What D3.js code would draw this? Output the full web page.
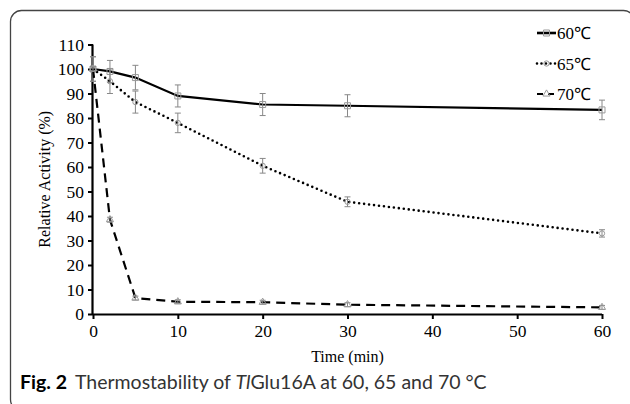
<!DOCTYPE html>
<html lang="en">
<head>
<meta charset="utf-8">
<title>Thermostability</title>
<script src="https://d3js.org/d3.v7.min.js"></script>
<style>
  body { margin: 0; background: #fff; }
  svg text { font-family: "Liberation Serif", "Times New Roman", serif; }
</style>
</head>
<body>
<div id="chart"></div>
<script>
// data
var times = [0, 2, 5, 10, 20, 30, 60];
var series = ["60℃", "65℃", "70℃"];
var act60 = [100, 99, 96.5, 89, 85.5, 85, 83.3];
var err60 = [5, 4.5, 5, 4.5, 4.5, 4.5, 4];
var act65 = [100, 95, 86.5, 78, 60.5, 45.8, 32.9];
var err65 = [5, 5, 4.5, 4, 3, 2, 1.5];
var act70 = [100, 38.5, 6.5, 5, 4.8, 3.8, 2.7];
var err70 = [1, 1, 0.8, 0.8, 0.8, 0.8, 0.8];
var xTicks = [0, 10, 20, 30, 40, 50, 60];
var yTicks = d3.range(0, 111, 10);

var w = 630, h = 404;
var margin = {top: 44.5, right: 28, bottom: 90, left: 93};

var svg = d3.select("#chart").append("svg")
  .attr("width", w)
  .attr("height", h);

// rounded frame of the figure panel
svg.append("rect")
  .attr("x", 10.5).attr("y", 10.5)
  .attr("width", 624).attr("height", 400)
  .attr("rx", 11).attr("ry", 11)
  .attr("fill", "none")
  .attr("stroke", "#444")
  .attr("stroke-width", 1.3);

var x = d3.scaleLinear().domain([0, 60]).range([margin.left, w - margin.right]);
var y = d3.scaleLinear().domain([0, 110]).range([h - margin.bottom, margin.top]);

var xAxis = d3.axisBottom(x).tickValues(xTicks).tickSize(5).tickPadding(6);
var yAxis = d3.axisLeft(y).tickValues(yTicks).tickSize(5).tickPadding(4);

var gx = svg.append("g")
  .attr("transform", `translate(0, ${y(0)})`)
  .call(xAxis);
var gy = svg.append("g")
  .attr("transform", `translate(${x(0)}, 0)`)
  .call(yAxis);

[gx, gy].forEach(function(g) {
  g.select(".domain").attr("stroke", "#000").attr("stroke-width", 2.2);
  g.selectAll(".tick line").attr("stroke", "#000").attr("stroke-width", 2);
  g.selectAll(".tick text")
    .attr("fill", "#000")
    .style("font-family", '"Liberation Serif", serif')
    .style("font-size", "17.5px");
});
gx.select(".domain").attr("d", `M${x(0)},0.5H${x(60)}`);
gy.select(".domain").attr("d", `M-0.5,${y(0)}V${y(110)}`);

// axis titles
svg.append("text")
  .attr("x", (x(0) + x(60)) / 2)
  .attr("y", 362)
  .attr("text-anchor", "middle")
  .style("font-size", "16px")
  .text("Time (min)");

svg.append("text")
  .attr("transform", `translate(50, ${(y(0) + y(110)) / 2}) rotate(-90)`)
  .attr("text-anchor", "middle")
  .style("font-size", "16px")
  .text("Relative Activity (%)");

var styles = [
  {vals: act60, errs: err60, dash: null, width: 2.2, cap: "butt", marker: "square"},
  {vals: act65, errs: err65, dash: "0,5", width: 2.6, cap: "round", marker: "circle"},
  {vals: act70, errs: err70, dash: "9,6", width: 2.2, cap: "butt", marker: "triangle"}
];

var line = d3.line()
  .x(function(d) { return x(d[0]); })
  .y(function(d) { return y(d[1]); });

function marker(g, type, cx, cy) {
  var sym = type === "square" ? d3.symbolSquare : type === "circle" ? d3.symbolCircle : d3.symbolTriangle;
  g.append("path")
    .attr("d", d3.symbol().type(sym).size(type === "square" ? 36 : 22)())
    .attr("transform", `translate(${cx},${cy})`)
    .attr("fill", "none")
    .attr("stroke", "#999")
    .attr("stroke-width", 1);
}

styles.forEach(function(s) {
  var pts = times.map(function(t, i) { return [t, s.vals[i], s.errs[i]]; });

  svg.append("path")
    .datum(pts)
    .attr("d", line)
    .attr("fill", "none")
    .attr("stroke", "#000")
    .attr("stroke-width", s.width)
    .attr("stroke-linecap", s.cap)
    .attr("stroke-dasharray", s.dash);

  var eb = svg.append("g").attr("stroke", "#888").attr("stroke-width", 1);
  pts.forEach(function(p) {
    var cx = x(p[0]);
    eb.append("line").attr("x1", cx).attr("x2", cx)
      .attr("y1", y(p[1] - p[2])).attr("y2", y(p[1] + p[2]));
    [p[1] - p[2], p[1] + p[2]].forEach(function(v) {
      eb.append("line").attr("x1", cx - 3).attr("x2", cx + 3)
        .attr("y1", y(v)).attr("y2", y(v));
    });
    marker(svg, s.marker, cx, y(p[1]));
  });
});

// legend
var legend = svg.append("g");
series.forEach(function(name, i) {
  var s = styles[i];
  var ly = 33 + i * 30.5;
  legend.append("line")
    .attr("x1", 537).attr("x2", 556)
    .attr("y1", ly).attr("y2", ly)
    .attr("stroke", "#000")
    .attr("stroke-width", i === 0 ? 2.6 : s.width)
    .attr("stroke-linecap", s.cap)
    .attr("stroke-dasharray", s.dash ? (i === 1 ? "0,4.5" : "6,5") : null);
  marker(legend, s.marker, 546.5, ly);
  legend.append("text")
    .attr("x", 557)
    .attr("y", ly + 6)
    .style("font-size", "17px")
    .text(name);
});

// caption
var cap = svg.append("text")
  .attr("x", 20)
  .attr("y", 389)
  .style("font-family", 'Lato, "Noto Sans", sans-serif')
  .style("font-size", "19.5px")
  .attr("fill", "#333");
cap.append("tspan").style("font-weight", "bold").attr("fill", "#000").text("Fig. 2");
cap.append("tspan").attr("dx", 8).text("Thermostability of ");
cap.append("tspan").style("font-style", "italic").text("Tl");
cap.append("tspan").text("Glu16A at 60, 65 and 70 °C");
</script>
</body>
</html>
